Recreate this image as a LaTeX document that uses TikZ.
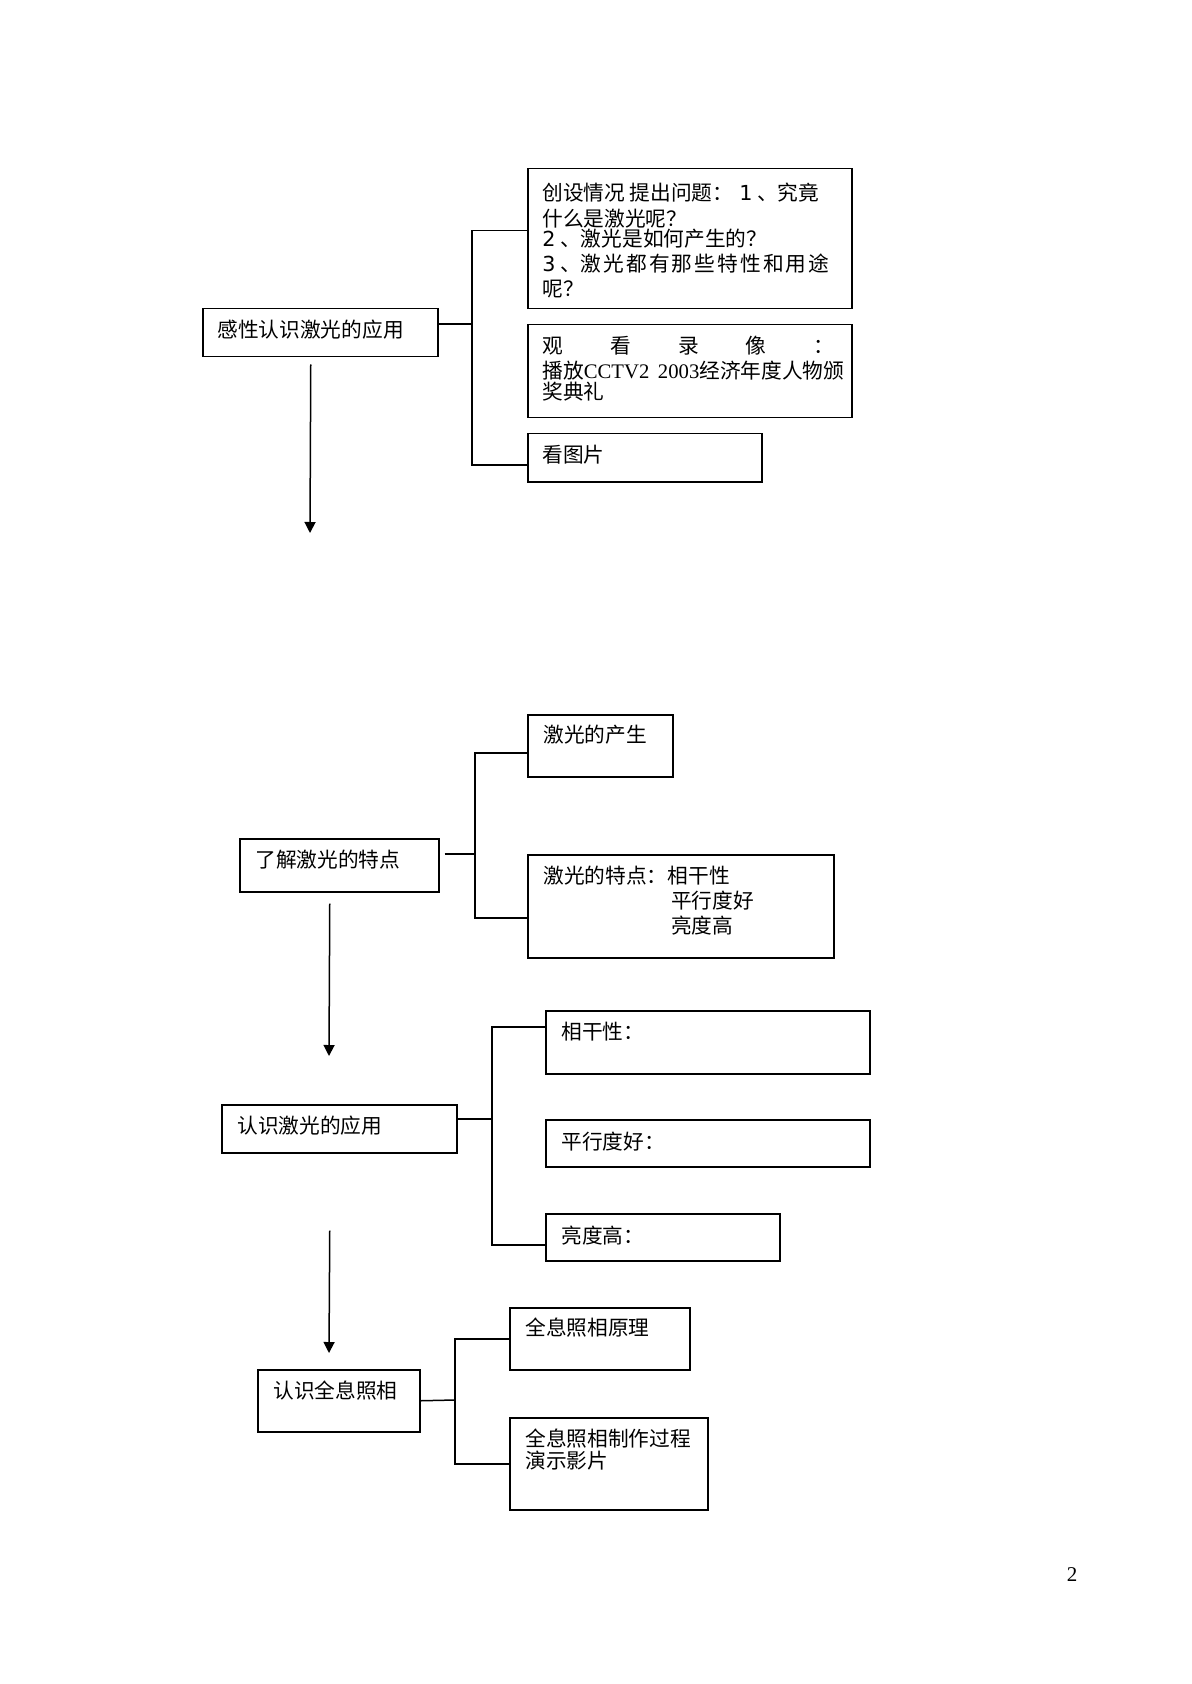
\documentclass[tikz,border=0pt]{standalone}
\usepackage{fontspec}
\setmainfont{Liberation Serif}
\newfontfamily\cjk{Noto Sans CJK SC}
\newfontfamily\dvs{DejaVu Sans}
\usetikzlibrary{arrows.meta}

\begin{document}
\begin{tikzpicture}[x=0.5pt, y=-0.5pt,
    box/.style={rectangle, draw=black, line width=0.75pt, anchor=north west, inner sep=0pt},
    lbl/.style={inner sep=0pt, align=left, font=\cjk\fontsize{10.35}{12.4}\selectfont},
    link/.style={line width=0.75pt},
    arr/.style={line width=0.75pt, -{Triangle[width=5.5pt, length=5.5pt]}}]
\useasboundingbox (0,0) rectangle (1191,1684);

% first step
\node (a) [box, minimum width=117.5pt, minimum height=24pt] at (202,308) {};
\node (a1) [box, minimum width=162pt, minimum height=70pt] at (527,168) {};
\node (a2) [box, minimum width=162pt, minimum height=46.5pt] at (527,324) {};
\node (a3) [box, minimum width=117pt, minimum height=24pt] at (527,433) {};
\node (at) [lbl, anchor=west] at (217,330) {感性认识激光的应用};
\node (a1t) [lbl, anchor=north west] at (542,183) {创设情况 提出问题：\hspace{3pt}{\dvs 1} 、究竟\\[0.6pt]
    什么是激光呢？\\[-2.4pt]
    {\dvs 2} 、激光是如何产生的？\\
    {\dvs 3} 、{\addfontfeature{LetterSpace=10}激光都有那些特性和用途}\\
    呢？};
\node (a2t) [lbl, anchor=north west] at (542,336) {\makebox[146pt][s]{观\hfill 看\hfill 录\hfill 像\hfill ：}\\
    播放{\rmfamily CCTV2\,\ 2003}经济年度人物颁\\[-1.9pt]
    奖典礼};
\node (a3t) [lbl, anchor=west] at (542,455) {看图片};
\coordinate (ja) at (472,324);
\draw[link] (a.east |- ja) -- (ja);
\draw[link] ([yshift=4pt]a1.west) -| (ja) |- ([yshift=-3.5pt]a3.west);
\coordinate (ar1) at (310,533);
\draw[arr] ([xshift=-4.75pt, yshift=-3.5pt]a.south) -- (ar1);

% second step
\node (b) [box, minimum width=99.5pt, minimum height=26.5pt] at (239,838) {};
\node (b1) [box, minimum width=72.5pt, minimum height=31pt] at (527,714) {};
\node (b2) [box, minimum width=153pt, minimum height=51.5pt] at (527,854) {};
\node (bt) [lbl, anchor=west] at (255,860) {了解激光的特点};
\node (b1t) [lbl, anchor=west] at (543,735) {激光的产生};
\node (b2t) [lbl, anchor=north west] at (543,866) {激光的特点：相干性\\
    \phantom{激光的特点：}\,平行度好\\
    \phantom{激光的特点：}\,亮度高};
\coordinate (jb) at (475,854);
\draw[link] ([xshift=2.5pt]b.east |- jb) -- (jb);
\draw[link] ([yshift=-3.5pt]b1.west) -| (jb) |- ([yshift=-5.75pt]b2.west);
\coordinate (ar2) at (329,1056);
\draw[arr] ([xshift=-4.75pt, yshift=-5.5pt]b.south) -- (ar2);

% third step
\node (c) [box, minimum width=117.5pt, minimum height=24pt] at (221,1104) {};
\node (c1) [box, minimum width=162pt, minimum height=31.5pt] at (545,1010) {};
\node (c2) [box, minimum width=162pt, minimum height=23.5pt] at (545,1119) {};
\node (c3) [box, minimum width=117pt, minimum height=23.5pt] at (545,1213) {};
\node (ct) [lbl, anchor=west] at (237,1126) {认识激光的应用};
\node (c1t) [lbl, anchor=west] at (561,1032) {相干性：};
\node (c2t) [lbl, anchor=west] at (561,1142) {平行度好：};
\node (c3t) [lbl, anchor=west] at (561,1236) {亮度高：};
\coordinate (jc) at (492,1119);
\draw[link] (c.east |- jc) -- (jc);
\draw[link] ([yshift=7.75pt]c1.west) -| (jc) |- ([yshift=-3.75pt]c3.west);
\coordinate (ar3) at (329,1353);
\draw[arr] ([xshift=-4.75pt, yshift=-38.5pt]c.south) -- (ar3);

% fourth step
\node (d) [box, minimum width=81pt, minimum height=31pt] at (257,1369) {};
\node (d1) [box, minimum width=90pt, minimum height=31pt] at (509,1307) {};
\node (d2) [box, minimum width=99pt, minimum height=46pt] at (509,1417) {};
\node (dt) [lbl, anchor=west] at (273,1391) {认识全息照相};
\node (d1t) [lbl, anchor=west] at (525,1328) {全息照相原理};
\node (d2t) [lbl, anchor=north west] at (525,1428) {全息照相制作过程\\[-1.4pt]
    演示影片};
\coordinate (jd) at (455,1400);
\draw[link] (d.east) -- (jd);
\draw[link] (d1.west) -| (jd) |- (d2.west);

\node (pnum) [inner sep=0pt, font=\fontsize{10.5}{12}\selectfont] at (1072,1575) {2};
\end{tikzpicture}
\end{document}
